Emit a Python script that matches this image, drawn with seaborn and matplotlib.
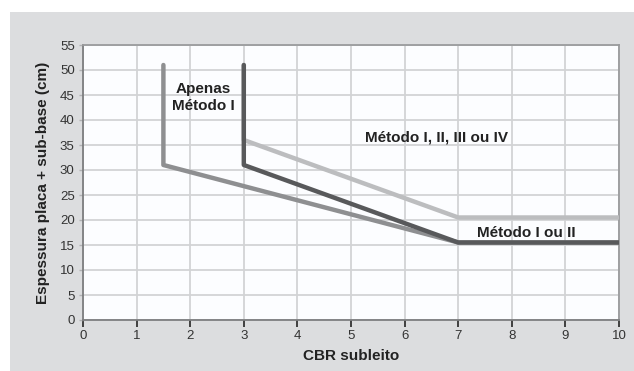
import matplotlib
matplotlib.use("Agg")
import matplotlib.pyplot as plt
from matplotlib.patches import Rectangle
import seaborn as sns
import pandas as pd

# Design boundaries: CBR of subgrade vs. slab + sub-base thickness
metodo_1_cbr = [1.5, 1.5, 7, 10]
metodo_1_esp = [51, 31, 15.5, 15.5]

metodo_12_cbr = [3, 3, 7, 10]
metodo_12_esp = [51, 31, 15.5, 15.5]

metodo_1234_cbr = [3, 3, 7, 10]
metodo_1234_esp = [51, 36, 20.5, 20.5]

x_ticks = list(range(0, 11))
y_ticks = list(range(0, 56, 5))

sns.set_theme(style="white")
plt.rcParams["font.family"] = ["Liberation Sans", "DejaVu Sans"]

fig = plt.figure(figsize=(6.34, 3.71), dpi=100)
fig.patch.set_facecolor("white")
fig.add_artist(Rectangle((10 / 634, 0), 1 - 10 / 634, (371 - 12) / 371,
                         transform=fig.transFigure, facecolor="#dcdddf",
                         edgecolor="none", zorder=-10))

ax = fig.add_axes([83 / 634, 1 - 320 / 371, (619 - 83) / 634, (320 - 45) / 371])
ax.set_zorder(1)
ax.set_facecolor("#fcfdff")

series = [
    (metodo_1234_cbr, metodo_1234_esp, "#bcbdbf"),
    (metodo_1_cbr, metodo_1_esp, "#8e8f91"),
    (metodo_12_cbr, metodo_12_esp, "#58595b"),
]
for xs, ys, color in series:
    df = pd.DataFrame({"cbr": xs, "esp": ys})
    sns.lineplot(data=df, x="cbr", y="esp", sort=False, estimator=None,
                 color=color, linewidth=3.2, ax=ax, zorder=3)

ax.set_xlim(0, 10)
ax.set_ylim(0, 55)
ax.set_xticks(x_ticks)
ax.set_yticks(y_ticks)
ax.set_xticklabels([str(v) for v in x_ticks], fontsize=9.5, color="#333333")
ax.set_yticklabels([str(v) for v in y_ticks], fontsize=9.5, color="#333333")

ax.grid(True, color="#d2d3d5", linewidth=1.3, zorder=1)
ax.set_axisbelow(True)

for side in ["top", "right"]:
    ax.spines[side].set_color("#9a9b9d")
    ax.spines[side].set_linewidth(1.3)
for side in ["left", "bottom"]:
    ax.spines[side].set_color("#7d7e80")
    ax.spines[side].set_linewidth(1.3)

ax.tick_params(axis="x", direction="out", length=5, width=1.3, color="#333333", pad=2.5)
ax.tick_params(axis="y", direction="out", length=3, width=1.0, color="#b0b1b3", pad=3)
ax.tick_params(axis="both", bottom=True, left=True)

ax.set_xlabel("CBR subleito", fontsize=11, fontweight="bold", color="#222222", labelpad=5)
ax.set_ylabel("Espessura placa + sub-base (cm)", fontsize=11, fontweight="bold",
              color="#222222", labelpad=7)

ax.text(2.25, 44.5, "Apenas\nMétodo I", ha="center", va="center", fontsize=11,
        fontweight="bold", color="#222222", linespacing=1.35, zorder=4)
ax.text(6.6, 36.6, "Método I, II, III ou IV", ha="center", va="center", fontsize=11,
        fontweight="bold", color="#222222", zorder=4)
ax.text(8.28, 17.4, "Método I ou II", ha="center", va="center", fontsize=11,
        fontweight="bold", color="#222222", zorder=4)

fig.savefig("out.png", dpi=100, facecolor=fig.get_facecolor())
